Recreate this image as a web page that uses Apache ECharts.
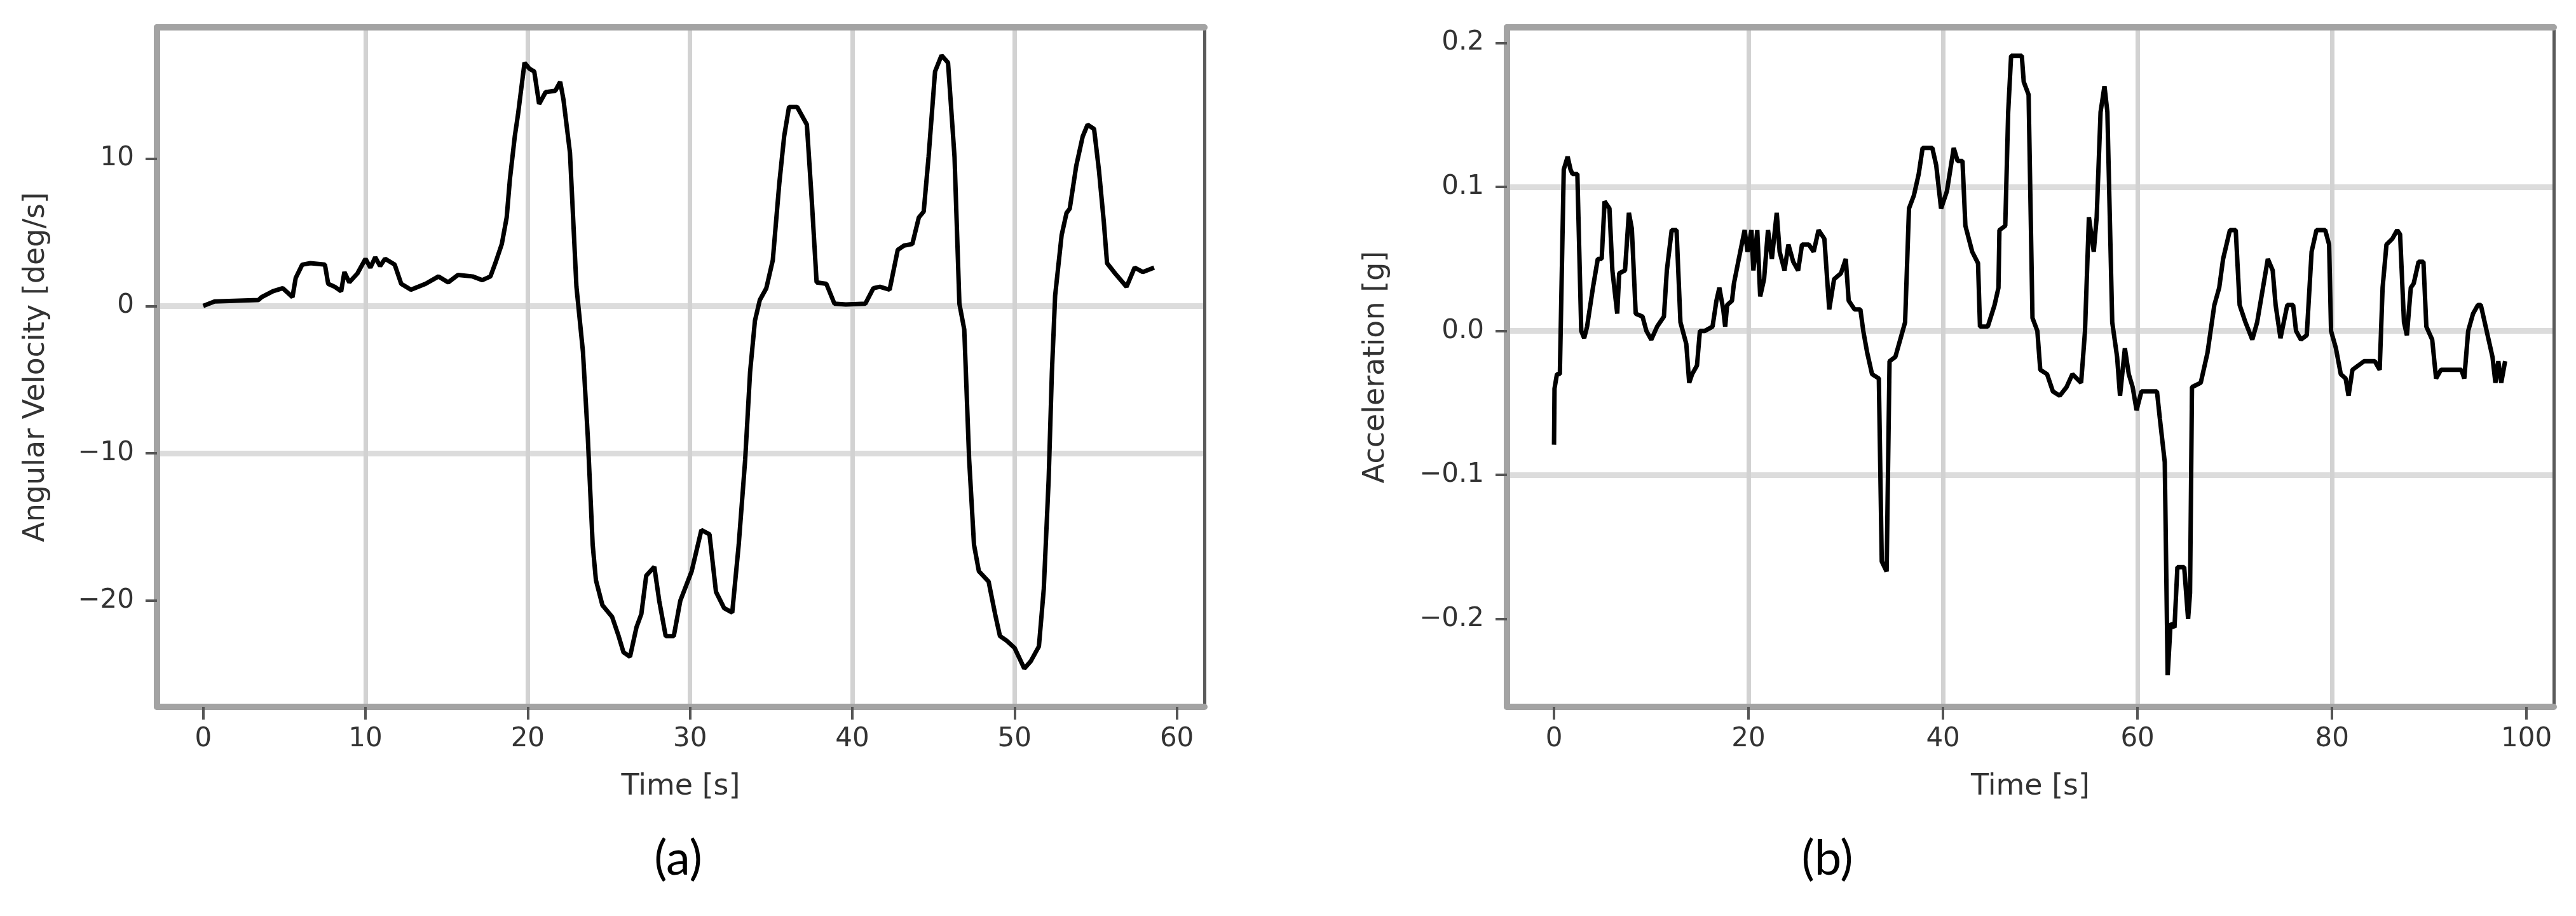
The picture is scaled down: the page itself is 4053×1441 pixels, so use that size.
<!DOCTYPE html>
<html>
<head>
<meta charset="utf-8">
<script src="https://cdn.jsdelivr.net/npm/echarts@6/dist/echarts.min.js"></script>
<style>
html,body{margin:0;padding:0;background:#ffffff;}
#chart{width:4053px;height:1441px;}
</style>
</head>
<body>
<div id="chart"></div>
<script>
// ---------- Panel (a): angular velocity ----------
const timeA = [0,0.7,3.4,3.6,4.3,4.9,5.5,5.7,6.1,6.6,7.5,7.7,8.1,8.5,8.7,9.0,9.5,10.0,10.3,10.6,10.9,11.2,11.8,12.2,12.8,13.7,14.5,15.1,15.7,16.6,17.2,17.7,18.0,18.4,18.7,18.9,19.2,19.4,19.8,20.1,20.4,20.7,21.1,21.7,22.0,22.2,22.6,23.0,23.4,23.7,24.0,24.2,24.6,25.2,25.6,25.9,26.3,26.7,27.0,27.3,27.8,28.1,28.5,29.0,29.4,30.1,30.7,31.2,31.6,32.1,32.6,33.0,33.4,33.7,34.0,34.3,34.7,35.1,35.5,35.8,36.1,36.6,37.2,37.5,37.8,38.4,38.9,39.6,40.8,41.3,41.7,42.3,42.8,43.2,43.7,44.1,44.4,44.7,45.1,45.5,45.9,46.3,46.6,46.9,47.2,47.5,47.8,48.4,48.8,49.1,49.5,50.0,50.6,51.0,51.5,51.8,52.1,52.3,52.5,52.9,53.2,53.4,53.8,54.2,54.5,54.9,55.2,55.5,55.7,56.2,56.9,57.4,57.9,58.6];
const angularVelocity = [0,0.3,0.4,0.6,1.0,1.2,0.6,1.9,2.8,2.9,2.8,1.5,1.3,1.0,2.3,1.6,2.2,3.2,2.6,3.3,2.7,3.2,2.8,1.5,1.1,1.5,2.0,1.6,2.1,2.0,1.75,2.0,2.9,4.2,6.0,8.6,11.5,13.0,16.5,16.1,15.9,13.7,14.5,14.6,15.2,14.0,10.4,1.3,-3.1,-8.9,-16.2,-18.6,-20.3,-21.1,-22.4,-23.5,-23.8,-21.8,-20.9,-18.3,-17.7,-20.0,-22.4,-22.4,-20.0,-18.0,-15.2,-15.5,-19.4,-20.5,-20.8,-16.2,-10.4,-4.5,-1.0,0.4,1.2,3.1,8.3,11.5,13.5,13.5,12.3,7.2,1.6,1.5,0.15,0.1,0.15,1.2,1.3,1.1,3.8,4.1,4.2,6.0,6.4,10.1,15.9,17.0,16.5,10.1,0.15,-1.6,-10.4,-16.2,-18.0,-18.7,-20.9,-22.4,-22.7,-23.2,-24.6,-24.1,-23.1,-19.2,-11.8,-4.5,0.7,4.8,6.3,6.6,9.5,11.5,12.3,12.0,9.2,5.7,2.9,2.2,1.3,2.6,2.3,2.6];

// ---------- Panel (b): acceleration ----------
const timeB = [0.0,0.05,0.3,0.6,1.0,1.4,1.7,1.9,2.4,2.8,3.1,3.4,4.0,4.5,4.9,5.2,5.7,6.0,6.5,6.7,7.3,7.7,8.0,8.4,9.1,9.5,10.0,10.6,11.3,11.6,12.1,12.6,13.0,13.6,13.9,14.2,14.7,15.0,15.5,16.3,16.7,17.0,17.4,17.6,17.8,18.3,18.5,19.0,19.6,19.9,20.3,20.5,20.9,21.2,21.6,22.0,22.4,22.9,23.2,23.7,24.1,24.6,25.1,25.5,26.2,26.7,27.2,27.8,28.3,28.8,29.5,30.0,30.3,30.9,31.5,31.8,32.2,32.7,33.4,33.7,34.2,34.5,35.1,35.6,36.1,36.5,37.0,37.5,37.9,38.9,39.3,39.8,40.4,41.1,41.5,42.0,42.3,43.0,43.6,43.8,44.6,45.3,45.7,45.8,46.4,46.7,47.0,48.1,48.3,48.8,49.2,49.7,50.0,50.7,51.3,52.0,52.7,53.3,54.2,54.6,55.0,55.5,55.8,56.2,56.6,56.9,57.4,57.9,58.2,58.7,59.1,59.5,59.9,60.4,61.3,62.0,62.3,62.8,63.1,63.4,63.8,64.1,64.8,65.2,65.4,65.6,66.5,67.2,67.9,68.4,68.8,69.5,70.1,70.5,71.1,71.8,72.3,72.9,73.4,73.9,74.2,74.7,75.4,76.0,76.3,76.8,77.4,77.9,78.4,79.3,79.7,79.9,80.4,80.9,81.4,81.7,82.1,83.3,84.4,84.9,85.2,85.6,86.2,86.7,87.0,87.4,87.7,88.1,88.4,88.9,89.4,89.7,90.3,90.7,91.2,93.3,93.6,94.0,94.5,95.0,95.3,95.7,96.1,96.5,96.8,97.1,97.4,97.8];
const acceleration = [-0.079,-0.04,-0.03,-0.03,0.112,0.121,0.112,0.109,0.109,0.0,-0.005,0.003,0.03,0.05,0.05,0.09,0.085,0.042,0.012,0.04,0.042,0.082,0.071,0.012,0.01,0.0,-0.006,0.003,0.01,0.042,0.07,0.07,0.006,-0.009,-0.036,-0.03,-0.024,0.0,0.0,0.003,0.021,0.03,0.015,0.003,0.018,0.021,0.033,0.05,0.07,0.055,0.07,0.042,0.07,0.024,0.036,0.07,0.05,0.082,0.055,0.042,0.06,0.048,0.042,0.06,0.06,0.055,0.07,0.064,0.015,0.036,0.04,0.05,0.021,0.015,0.015,0.0,-0.015,-0.03,-0.033,-0.16,-0.167,-0.021,-0.018,-0.006,0.006,0.085,0.094,0.109,0.127,0.127,0.115,0.085,0.097,0.127,0.118,0.118,0.073,0.055,0.047,0.003,0.003,0.018,0.03,0.07,0.073,0.152,0.191,0.191,0.173,0.164,0.009,0.0,-0.027,-0.03,-0.042,-0.045,-0.039,-0.03,-0.036,0.0,0.079,0.055,0.079,0.152,0.17,0.152,0.006,-0.018,-0.045,-0.012,-0.03,-0.039,-0.055,-0.042,-0.042,-0.042,-0.061,-0.091,-0.239,-0.203,-0.206,-0.164,-0.164,-0.2,-0.182,-0.039,-0.036,-0.015,0.018,0.03,0.05,0.07,0.07,0.018,0.006,-0.006,0.006,0.03,0.05,0.042,0.018,-0.005,0.018,0.018,0.0,-0.006,-0.003,0.055,0.07,0.07,0.06,0.0,-0.012,-0.03,-0.033,-0.045,-0.027,-0.021,-0.021,-0.027,0.03,0.06,0.064,0.07,0.067,0.006,-0.003,0.03,0.033,0.048,0.048,0.003,-0.006,-0.033,-0.027,-0.027,-0.033,0.0,0.012,0.018,0.018,0.006,-0.006,-0.018,-0.036,-0.021,-0.036,-0.021];

// ---------- Tick labels ----------
const ticksXA = [0,10,20,30,40,50,60];
const ticksYA = [-20,-10,0,10];
const ticksXB = [0,20,40,60,80,100];
const ticksYB = [-0.2,-0.1,0.0,0.1,0.2];

const xNameA = 'Time [s]';
const yNameA = 'Angular Velocity [deg/s]';
const xNameB = 'Time [s]';
const yNameB = 'Acceleration [g]';
const panelLabels = ['(a)','(b)'];

function zip(xs, ys){ return xs.map((x,i)=>[x, ys[i]]); }
function inList(v, list){ return list.some(t => Math.abs(t - v) < 1e-6); }
function minusFmt(s){ return s.replace('-', '\u2212'); }

const FONT = 'DejaVu Sans';
const tickFont = {fontFamily: FONT, fontSize: 42, color: '#333333'};
const nameFont = {fontFamily: FONT, fontSize: 46, color: '#333333'};

const spineGray = {color: '#a3a3a3', width: 10};
const spineDark = {color: '#5a5a5a', width: 5};

function mainX(gridIndex, min, max, ticks, name, fmt){
  return {
    type: 'value', gridIndex, min, max, position: 'bottom',
    name, nameLocation: 'middle', nameGap: 103, nameTextStyle: nameFont,
    axisLine: {show: true, onZero: false, lineStyle: spineGray},
    axisTick: {show: true, inside: false, length: 20, customValues: ticks, lineStyle: {color: '#555555', width: 4}},
    axisLabel: {show: true, margin: 30, customValues: ticks, ...tickFont,
      formatter: v => inList(v, ticks) ? fmt(v) : ''},
    splitLine: {show: true, showMinLine: false, showMaxLine: false, lineStyle: {color: '#d2d2d2', width: 7}}
  };
}
function mainY(gridIndex, min, max, ticks, name, gap, fmt){
  return {
    type: 'value', gridIndex, min, max, position: 'left',
    name, nameLocation: 'middle', nameGap: gap, nameRotate: 90, nameTextStyle: nameFont,
    axisLine: {show: true, onZero: false, lineStyle: spineGray},
    axisTick: {show: true, inside: false, length: 18, customValues: ticks, lineStyle: {color: '#555555', width: 4}},
    axisLabel: {show: true, margin: 36, customValues: ticks, ...tickFont,
      formatter: v => inList(v, ticks) ? fmt(v) : ''},
    splitLine: {show: true, showMinLine: false, showMaxLine: false, lineStyle: {color: '#dcdcdc', width: 9}}
  };
}
function spineX(gridIndex, min, max){
  return {type: 'value', gridIndex, min, max, position: 'top',
    axisLine: {show: true, onZero: false, lineStyle: spineGray},
    axisTick: {show: false}, axisLabel: {show: false}, splitLine: {show: false}};
}
function spineY(gridIndex, min, max){
  return {type: 'value', gridIndex, min, max, position: 'right',
    axisLine: {show: true, onZero: false, lineStyle: spineDark},
    axisTick: {show: false}, axisLabel: {show: false}, splitLine: {show: false}};
}

const fmtInt = v => minusFmt(String(Math.round(v)));
const fmt1 = v => minusFmt((Math.abs(v) < 1e-9 ? 0 : v).toFixed(1));

const rangeA = {xmin: -2.85, xmax: 61.7, ymin: -27.2, ymax: 18.9};
const rangeB = {xmin: -4.84, xmax: 102.8, ymin: -0.261, ymax: 0.2108};

const chart = echarts.init(document.getElementById('chart'), null, {renderer: 'canvas'});
chart.setOption({
  animation: false,
  backgroundColor: '#ffffff',
  title: [
    {text: panelLabels[0], left: 1067, top: 1313, textAlign: 'center', padding: 0,
      textStyle: {fontFamily: 'Lato', fontSize: 76, fontWeight: 'normal', color: '#000000'}},
    {text: panelLabels[1], left: 2875, top: 1313, textAlign: 'center', padding: 0,
      textStyle: {fontFamily: 'Lato', fontSize: 76, fontWeight: 'normal', color: '#000000'}}
  ],
  grid: [
    {left: 247, right: 4053 - 1895, top: 43, bottom: 1441 - 1112, containLabel: false},
    {left: 2371, right: 4053 - 4018, top: 43, bottom: 1441 - 1112, containLabel: false}
  ],
  xAxis: [
    mainX(0, rangeA.xmin, rangeA.xmax, ticksXA, xNameA, fmtInt),
    spineX(0, rangeA.xmin, rangeA.xmax),
    mainX(1, rangeB.xmin, rangeB.xmax, ticksXB, xNameB, fmtInt),
    spineX(1, rangeB.xmin, rangeB.xmax)
  ],
  yAxis: [
    mainY(0, rangeA.ymin, rangeA.ymax, ticksYA, yNameA, 167, fmtInt),
    spineY(0, rangeA.ymin, rangeA.ymax),
    mainY(1, rangeB.ymin, rangeB.ymax, ticksYB, yNameB, 183, fmt1),
    spineY(1, rangeB.ymin, rangeB.ymax)
  ],
  series: [
    {type: 'line', xAxisIndex: 0, yAxisIndex: 0, data: zip(timeA, angularVelocity),
      showSymbol: false, symbol: 'none', smooth: false,
      lineStyle: {color: '#000000', width: 7}, z: 3},
    {type: 'line', xAxisIndex: 2, yAxisIndex: 2, data: zip(timeB, acceleration),
      showSymbol: false, symbol: 'none', smooth: false,
      lineStyle: {color: '#000000', width: 7}, z: 3}
  ]
});
</script>
</body>
</html>
